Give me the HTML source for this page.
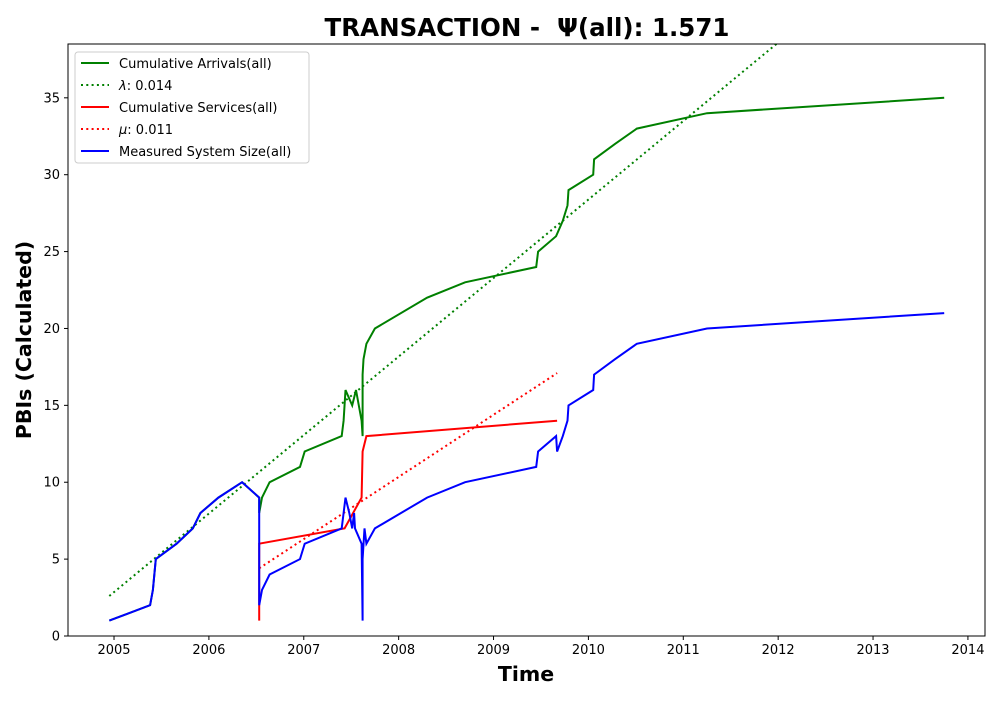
<!DOCTYPE html>
<html><head><meta charset="utf-8"><style>
body{margin:0;background:#fff;font-family:"Liberation Sans","DejaVu Sans",sans-serif}
svg text{font-family:"DejaVu Sans","Liberation Sans",sans-serif}
</style></head><body>
<svg id="c" width="1000" height="700" xmlns="http://www.w3.org/2000/svg"></svg>
<script>
const xTicks=[2005,2006,2007,2008,2009,2010,2011,2012,2013,2014];
const yTicks=[0,5,10,15,20,25,30,35];
const arrivalsX=[2004.95,2005.38,2005.41,2005.44,2005.66,2005.83,2005.91,2006.10,2006.35,2006.53,2006.53,2006.56,2006.64,2006.96,2007.01,2007.40,2007.42,2007.44,2007.51,2007.53,2007.55,2007.61,2007.62,2007.62,2007.63,2007.66,2007.75,2008.30,2008.70,2009.45,2009.47,2009.66,2009.73,2009.78,2009.79,2010.05,2010.06,2010.28,2010.51,2011.25,2013.75];
const arrivalsY=[1,2,3,5,6,7,8,9,10,9,8,9,10,11,12,13,14,16,15,15.5,16,14,13,17,18,19,20,22,23,24,25,26,27,28,29,30,31,32,33,34,35];
const servicesX=[2006.53,2006.53,2007.43,2007.61,2007.62,2007.66,2009.67];
const servicesY=[1,6,7,9,12,13,14];
const sizeX=[2004.95,2005.38,2005.41,2005.44,2005.66,2005.83,2005.91,2006.10,2006.35,2006.53,2006.53,2006.56,2006.64,2006.96,2007.01,2007.40,2007.44,2007.48,2007.51,2007.53,2007.54,2007.61,2007.62,2007.62,2007.64,2007.66,2007.75,2008.30,2008.70,2009.45,2009.47,2009.66,2009.67,2009.73,2009.78,2009.79,2010.05,2010.06,2010.28,2010.51,2011.25,2013.75];
const sizeY=[1,2,3,5,6,7,8,9,10,9,2,3,4,5,6,7,9,8,7,8,7,6,1,5,7,6,7,9,10,11,12,13,12,13,14,15,16,17,18,19,20,21];
const lambdaX=[2004.95,2012.0];
const lambdaY=[2.6,38.6];
const muX=[2006.53,2009.67];
const muY=[4.4,17.1];
const L=68,R=985,T=44,B=636,XMIN=2004.515,XMAX=2014.18,YMIN=0,YMAX=38.5;
const sx=v=>L+(v-XMIN)/(XMAX-XMIN)*(R-L);
const sy=v=>B-(v-YMIN)/(YMAX-YMIN)*(B-T);
const svg=document.getElementById('c');const NS='http://www.w3.org/2000/svg';
function mk(t,a,p){const e=document.createElementNS(NS,t);for(const k in a)e.setAttribute(k,a[k]);(p||svg).appendChild(e);return e;}
const clip=mk('clipPath',{id:'cp'});mk('rect',{x:L,y:T,width:R-L,height:B-T},clip);
function line(xs,ys,color,dash,name){const d=xs.map((x,i)=>(i?'L':'M')+sx(x).toFixed(1)+' '+sy(ys[i]).toFixed(1)).join('');
const p=mk('path',{d:d,fill:'none',stroke:color,'stroke-width':2,'clip-path':'url(#cp)'});
if(dash){p.setAttribute('stroke-dasharray','2 3.3');}

}
line(lambdaX,lambdaY,'green',true,'lambda-line');
line(arrivalsX,arrivalsY,'green',false,'cumulative-arrivals-line');
line(muX,muY,'red',true,'mu-line');
line(servicesX,servicesY,'red',false,'cumulative-services-line');
line(sizeX,sizeY,'blue',false,'system-size-line');
mk('rect',{x:L,y:T,width:R-L,height:B-T,fill:'none',stroke:'#000','stroke-width':1});
xTicks.forEach(v=>{const x=sx(v);mk('line',{x1:x,x2:x,y1:B,y2:B+4,stroke:'#000'});
const t=mk('text',{x:x,y:B+18,'text-anchor':'middle','font-size':13});t.textContent=v;

});
yTicks.forEach(v=>{const y=sy(v);mk('line',{x1:L-4,x2:L,y1:y,y2:y,stroke:'#000'});
const t=mk('text',{x:L-8,y:y+4.5,'text-anchor':'end','font-size':13});t.textContent=v;

});
</script>
<svg width="1000" height="700" style="position:absolute;left:0;top:0" xmlns="http://www.w3.org/2000/svg">
<text x="527" y="36" text-anchor="middle" font-size="24.5" font-weight="bold" font-family="DejaVu Sans,sans-serif" style="white-space:pre" xml:space="preserve">TRANSACTION -  Ψ(all): 1.571</text>
<text x="526" y="681" text-anchor="middle" font-size="20.5" font-weight="bold" font-family="DejaVu Sans,sans-serif">Time</text>
<text transform="translate(31,340) rotate(-90)" text-anchor="middle" font-size="20.5" font-weight="bold" font-family="DejaVu Sans,sans-serif">PBIs (Calculated)</text>
<g font-family="DejaVu Sans,sans-serif" font-size="13">
<rect x="75" y="52" width="234" height="111" rx="3" fill="#fff" fill-opacity="0.8" stroke="#ccc"/>
<line x1="81" x2="109" y1="63" y2="63" stroke="green" stroke-width="2"/><text x="119" y="68">Cumulative Arrivals(all)</text>
<line x1="81" x2="109" y1="85" y2="85" stroke="green" stroke-width="2" stroke-dasharray="2 3.3"/><text x="119" y="90"><tspan font-style="italic">λ</tspan>: 0.014</text>
<line x1="81" x2="109" y1="107" y2="107" stroke="red" stroke-width="2"/><text x="119" y="112">Cumulative Services(all)</text>
<line x1="81" x2="109" y1="129" y2="129" stroke="red" stroke-width="2" stroke-dasharray="2 3.3"/><text x="119" y="134"><tspan font-style="italic">μ</tspan>: 0.011</text>
<line x1="81" x2="109" y1="151" y2="151" stroke="blue" stroke-width="2"/><text x="119" y="156">Measured System Size(all)</text>
</g>
</svg>
</body></html>
